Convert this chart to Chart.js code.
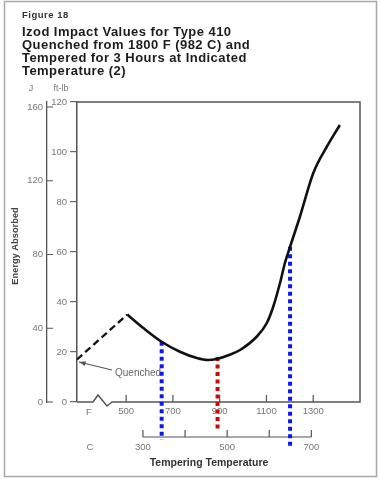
<!DOCTYPE html>
<html>
<head>
<meta charset="utf-8">
<script src="https://cdn.jsdelivr.net/npm/chart.js@4.4.1/dist/chart.umd.min.js"></script>
<style>
  html, body { margin: 0; padding: 0; background: #fff; }
  canvas { display: block; }
</style>
</head>
<body>
<canvas id="graficoIzod" width="380" height="481"></canvas>
<script>
// Valores (temperatura en F, energía en ft-lb)
const quenchTempF = [290, 505];
const quenchEnergy = [17, 35];
const temperF = [505, 575, 652, 730, 802, 850, 891, 940, 987, 1058, 1101, 1129, 1158, 1179, 1201, 1243, 1300, 1358, 1414];
const energyFtLb = [35, 29.5, 24.1, 20.1, 17.6, 16.8, 17.3, 18.8, 20.8, 26.1, 31.5, 38.1, 47.6, 55.6, 62.1, 74.1, 91.5, 102.1, 110.8];

// Líneas punteadas de color añadidas sobre la figura
const markerF = [652, 891, 1201];
const markerTop = [24.1, 18, 62.1];
const markerBottom = [-15, -12, -18];
const markerColors = ['#0c16f2', '#c80c0c', '#0c16f2'];

// Ejes
const ftlbTicks = [0, 20, 40, 60, 80, 100, 120];
const jouleTicks = [0, 40, 80, 120, 160];
const fahrTicks = [500, 700, 900, 1100, 1300];
const celsTicks = [300, 400, 500, 600, 700];
const celsLabels = [300, 500, 700];
const J_PER_FTLB = 1.35582;

const titleLines = [
    'Izod Impact Values for Type 410',
    'Quenched from 1800 F (982 C) and',
    'Tempered for 3 Hours at Indicated',
    'Temperature (2)'
];

const FUENTE = "'Liberation Sans', Arial, Helvetica, sans-serif";

const puntos = (xs, ys) => xs.map((v, i) => ({ x: v, y: ys[i] }));

// Decoración: marco, títulos, eje J, eje C, corte del eje F, flecha
const decoracion = {
    id: 'decoracion',
    beforeDraw(chart) {
        const { ctx, width, height } = chart;
        ctx.save();
        ctx.fillStyle = '#fff';
        ctx.fillRect(0, 0, width, height);
        ctx.strokeStyle = '#a8a8a8';
        ctx.lineWidth = 1.5;
        ctx.strokeRect(4.5, 1.5, 372, 475);

        ctx.textAlign = 'left';
        ctx.textBaseline = 'middle';
        ctx.fillStyle = '#333';
        ctx.font = `bold 9.5px ${FUENTE}`;
        ctx.letterSpacing = '0.5px';
        ctx.fillText('Figure 18', 22, 15);

        ctx.fillStyle = '#1c1c1c';
        ctx.font = `bold 13px ${FUENTE}`;
        ctx.letterSpacing = '0.45px';
        titleLines.forEach((t, i) => ctx.fillText(t, 22, 32 + i * 13.3));
        ctx.letterSpacing = '0px';

        ctx.fillStyle = '#777';
        ctx.font = `9px ${FUENTE}`;
        ctx.textAlign = 'center';
        ctx.fillText('J', 31, 89);
        ctx.fillText('ft-lb', 61, 89);

        // título del eje vertical
        ctx.translate(15, 246);
        ctx.rotate(-Math.PI / 2);
        ctx.fillStyle = '#444';
        ctx.font = `bold 9.3px ${FUENTE}`;
        ctx.fillText('Energy Absorbed', 0, 0);
        ctx.restore();
    },
    beforeDatasetsDraw(chart) {
        const { ctx, chartArea: ca, scales: { x, y, yJ } } = chart;
        ctx.save();

        // marco del gráfico con el corte del eje inferior
        ctx.strokeStyle = '#555';
        ctx.lineWidth = 1.5;
        ctx.beginPath();
        ctx.moveTo(ca.left, ca.top);
        ctx.lineTo(ca.right, ca.top);
        ctx.lineTo(ca.right, ca.bottom);
        ctx.lineTo(ca.left + 35, ca.bottom);
        ctx.lineTo(ca.left + 30, ca.bottom + 4);
        ctx.lineTo(ca.left + 21, ca.bottom - 7);
        ctx.lineTo(ca.left + 16, ca.bottom);
        ctx.lineTo(ca.left, ca.bottom);
        ctx.stroke();

        // marcas interiores del eje F
        ctx.lineWidth = 1.2;
        ctx.beginPath();
        fahrTicks.forEach(v => {
            const px = x.getPixelForValue(v);
            ctx.moveTo(px, ca.bottom);
            ctx.lineTo(px, ca.bottom - 7);
        });
        // marcas del eje J (hacia dentro)
        jouleTicks.forEach(v => {
            const py = yJ.getPixelForValue(v);
            ctx.moveTo(yJ.right, py);
            ctx.lineTo(yJ.right + 6, py);
        });
        ctx.stroke();

        // eje en grados C
        const cy = ca.bottom + 35;
        const cx = c => x.getPixelForValue(c * 1.8 + 32);
        ctx.beginPath();
        ctx.moveTo(cx(celsTicks[0]), cy);
        ctx.lineTo(cx(celsTicks[celsTicks.length - 1]), cy);
        celsTicks.forEach(c => {
            ctx.moveTo(cx(c), cy);
            ctx.lineTo(cx(c), cy - 7);
        });
        ctx.stroke();

        ctx.fillStyle = '#777';
        ctx.font = `9.5px ${FUENTE}`;
        ctx.textAlign = 'center';
        ctx.textBaseline = 'middle';
        celsLabels.forEach(c => ctx.fillText(String(c), cx(c), cy + 10));
        ctx.fillText('C', 90, cy + 10);
        ctx.fillText('F', 89, ca.bottom + 10);

        ctx.fillStyle = '#333';
        ctx.font = `bold 10.5px ${FUENTE}`;
        ctx.fillText('Tempering Temperature', 209, 463);

        // etiqueta "Quenched" con flecha
        ctx.fillStyle = '#666';
        ctx.font = `10px ${FUENTE}`;
        ctx.textAlign = 'left';
        ctx.fillText('Quenched', 115, 373);
        const tipX = x.getPixelForValue(quenchTempF[0]) + 2;
        const tipY = y.getPixelForValue(quenchEnergy[0] - 1);
        const tailX = 112, tailY = 370;
        const ang = Math.atan2(tipY - tailY, tipX - tailX);
        ctx.strokeStyle = '#555';
        ctx.lineWidth = 1.1;
        ctx.beginPath();
        ctx.moveTo(tailX, tailY);
        ctx.lineTo(tipX, tipY);
        ctx.stroke();
        ctx.fillStyle = '#555';
        ctx.beginPath();
        ctx.moveTo(tipX, tipY);
        ctx.lineTo(tipX - 7 * Math.cos(ang - 0.35), tipY - 7 * Math.sin(ang - 0.35));
        ctx.lineTo(tipX - 7 * Math.cos(ang + 0.35), tipY - 7 * Math.sin(ang + 0.35));
        ctx.closePath();
        ctx.fill();

        ctx.restore();
    }
};

const datasets = [
    {
        label: 'Quenched',
        data: puntos(quenchTempF, quenchEnergy),
        borderColor: '#111',
        borderWidth: 2.3,
        borderDash: [7, 4],
        pointRadius: 0
    },
    {
        label: 'Tempered',
        data: puntos(temperF, energyFtLb),
        borderColor: '#111',
        borderWidth: 2.6,
        cubicInterpolationMode: 'monotone',
        pointRadius: 0
    }
];

markerF.forEach((f, i) => {
    datasets.push({
        label: 'marca' + i,
        data: [{ x: f, y: markerTop[i] }, { x: f, y: markerBottom[i] }],
        borderColor: markerColors[i],
        borderWidth: 4,
        borderDash: [4, 3.5],
        borderCapStyle: 'butt',
        pointRadius: 0,
        clip: false
    });
});

new Chart(document.getElementById('graficoIzod'), {
    type: 'line',
    data: { datasets },
    options: {
        responsive: false,
        animation: false,
        layout: { padding: { top: 102, right: 20, bottom: 59, left: 0 } },
        plugins: {
            legend: { display: false },
            tooltip: { enabled: false }
        },
        scales: {
            x: {
                type: 'linear',
                position: 'bottom',
                min: 290,
                max: 1500,
                afterBuildTicks: s => { s.ticks = fahrTicks.map(v => ({ value: v })); },
                afterFit: s => { s.height = 20; },
                grid: { display: false, drawTicks: false },
                border: { display: false },
                ticks: {
                    padding: 4,
                    maxRotation: 0,
                    autoSkip: false,
                    color: '#777',
                    font: { family: FUENTE, size: 9.5 },
                    callback: v => String(v)
                }
            },
            y: {
                position: 'left',
                min: 0,
                max: 120,
                afterBuildTicks: s => { s.ticks = ftlbTicks.map(v => ({ value: v })); },
                afterFit: s => { s.width = 30; },
                grid: { drawOnChartArea: false, drawTicks: true, tickLength: 7, color: '#666', lineWidth: 1.2 },
                border: { display: true, color: '#555', width: 1.5 },
                ticks: {
                    padding: 3,
                    color: '#777',
                    font: { family: FUENTE, size: 9.5 },
                    callback: v => String(v)
                }
            },
            yJ: {
                position: 'left',
                min: 0,
                max: 120 * J_PER_FTLB,
                afterBuildTicks: s => { s.ticks = jouleTicks.map(v => ({ value: v })); },
                afterFit: s => { s.width = 47; },
                grid: { display: false, drawTicks: false },
                border: { display: true, color: '#555', width: 1.3 },
                ticks: {
                    padding: 4,
                    color: '#777',
                    font: { family: FUENTE, size: 9.5 },
                    callback: v => String(v)
                }
            }
        }
    },
    plugins: [decoracion]
});
</script>
</body>
</html>
